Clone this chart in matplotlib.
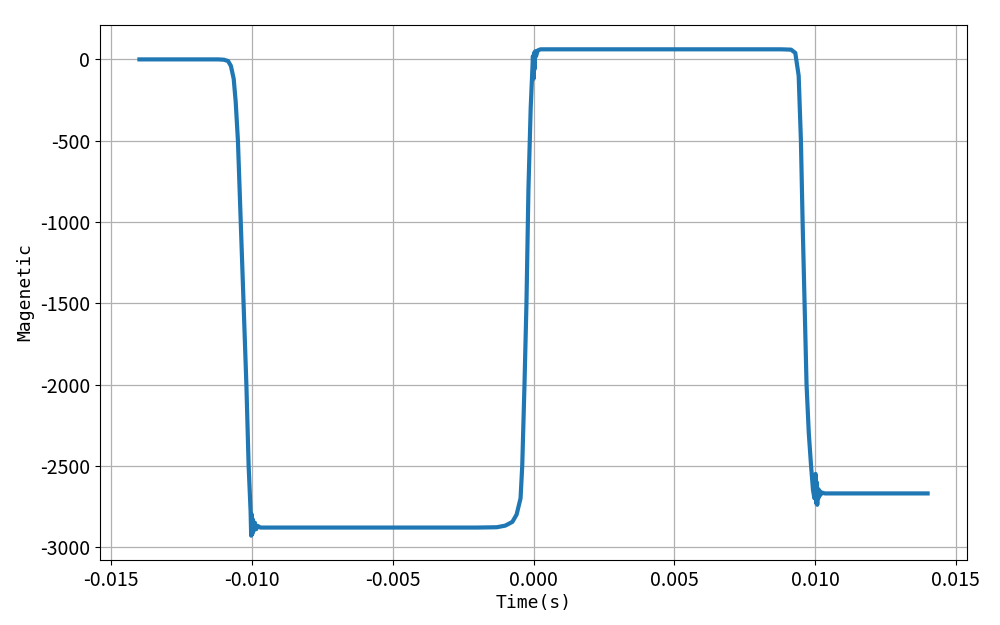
import matplotlib
matplotlib.use("Agg")
import matplotlib.pyplot as plt

plt.rcParams['font.family'] = ['Noto Sans CJK SC', 'DejaVu Sans']
plt.rcParams['axes.unicode_minus'] = False

# time (s) and magnetic values
time = [
    -0.0140, -0.0120, -0.0112, -0.01100, -0.01085, -0.01075, -0.01065, -0.01058,
    -0.01050, -0.01040, -0.01030, -0.01020, -0.01012, -0.01007, -0.01005,
    -0.01003, -0.01001, -0.00999, -0.00997, -0.00994, -0.00990, -0.00985,
    -0.00980, -0.00970, -0.00950, -0.0060, -0.0020, -0.00130, -0.00100,
    -0.00075, -0.00060, -0.00046, -0.00040, -0.00032, -0.00025, -0.00018,
    -0.00010, -0.00005, -0.00002, 0.00000, 0.00002, 0.00004, 0.00006,
    0.00009, 0.00015, 0.00025, 0.0005, 0.0040, 0.0088, 0.00915, 0.00930,
    0.00942, 0.00950, 0.00956, 0.00963, 0.00970, 0.00978, 0.00986, 0.00993,
    0.00998, 0.01002, 0.01004, 0.01006, 0.01008, 0.01010, 0.01012, 0.01015,
    0.01019, 0.01025, 0.01035, 0.0120, 0.0140,
]
magnetic = [
    0, 0, 0, -2, -10, -40, -120, -260,
    -500, -1000, -1500, -2000, -2500, -2700, -2780,
    -2930, -2800, -2920, -2830, -2900, -2850, -2890,
    -2870, -2880, -2880, -2880, -2880, -2878, -2868,
    -2845, -2800, -2700, -2500, -2000, -1500, -800,
    -300, -100, 20, -120, 40, -60, 50,
    20, 55, 62, 62, 62, 62, 60, 40,
    -100, -500, -1000, -1500, -2000, -2300, -2500, -2650,
    -2700, -2550, -2730, -2600, -2740, -2640, -2700, -2650,
    -2680, -2665, -2670, -2670, -2670,
]

fig, ax = plt.subplots(figsize=(10, 6.25), dpi=100)
fig.subplots_adjust(left=0.1, right=0.967, top=0.96, bottom=0.104)

ax.plot(time, magnetic, color='#1f77b4', linewidth=3)
ax.grid(True, color='#b0b0b0', linewidth=0.9)
ax.set_xlabel("Time(s)", fontsize=13, labelpad=2, family='DejaVu Sans Mono')
ax.set_ylabel("Magenetic", fontsize=13, family='DejaVu Sans Mono')
ax.tick_params(labelsize=14)

plt.savefig("out.png")
